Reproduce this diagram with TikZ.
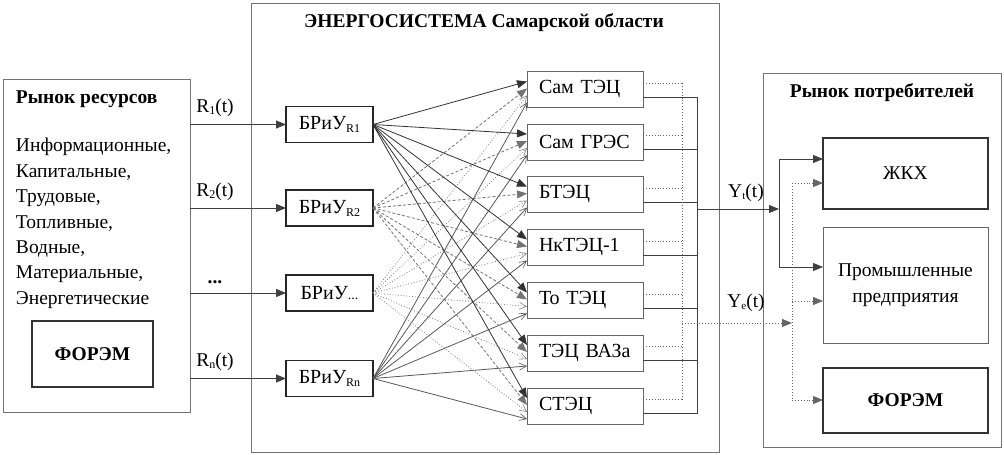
\documentclass[tikz,border=0pt]{standalone}
\usepackage{fontspec}
\setmainfont{Liberation Serif}
\usetikzlibrary{arrows.meta,calc}
\begin{document}
\begin{tikzpicture}[x=1pt,y=-1pt,
  every node/.style={inner sep=0pt,outer sep=0pt},
  txt/.style={font=\fontsize{19.5}{24}\selectfont},
  btxt/.style={font=\fontsize{19.5}{24}\selectfont\bfseries},
  panel/.style={draw=black!55,line width=1pt},
  brbox/.style={draw=black!85,line width=1.3pt,minimum width=87pt,minimum height=36pt,font=\fontsize{20}{24}\selectfont},
  plant/.style={draw=black!60,line width=1pt,text width=92pt,inner xsep=12pt,minimum height=36pt,align=left,font=\fontsize{20}{24}\selectfont},
  cbox/.style={draw=black!80,line width=1.3pt,font=\fontsize{19.5}{24}\selectfont,align=center},
  fill tip/.style={-{Triangle[length=10pt,width=8pt]}},
  open tip/.style={-{Straight Barb[length=7pt,width=7pt,line width=0.6pt]}},
  l1/.style={draw=black!80,line width=0.8pt,fill tip},
  l2/.style={draw=black!55,line width=0.8pt,dash pattern=on 3pt off 2pt,fill tip},
  l3/.style={draw=black!50,line width=0.8pt,dotted,open tip},
  l4/.style={draw=black!65,line width=0.8pt,open tip},
  solidout/.style={draw=black!75,line width=0.9pt},
  dotout/.style={draw=black!60,line width=0.9pt,dotted},
  inarr/.style={draw=black!75,line width=0.9pt,fill tip},
]
\useasboundingbox (0,0) rectangle (1004,455);
\fill[white] (0,0) rectangle (1004,455);

% panels
\node[panel,minimum width=187pt,minimum height=333pt] (lp) at (96.5,245.5) {};
\node[panel,minimum width=468pt,minimum height=449pt] (mp) at (485,227.5) {};
\node[panel,minimum width=238pt,minimum height=374pt] (rp) at (882,260) {};

% left panel texts
\node[btxt,anchor=west] (lt) at (16,99) {Рынок ресурсов};
\foreach \tx/\yy [count=\k] in {{Информационные,}/147,{Капитальные,}/172.5,{Трудовые,}/198,{Топливные,}/223.5,{Водные,}/249,{Материальные,}/274.5,{Энергетические}/300}
  \node[txt,anchor=west] (res\k) at (16,\yy) {\tx};
\node[cbox,minimum width=121pt,minimum height=66pt,font=\fontsize{19.5}{24}\selectfont\bfseries] (f1) at (92.5,354) {ФОРЭМ};

% middle title
\node[btxt] (mt) at (484,23) {ЭНЕРГОСИСТЕМА Самарской области};

% BRiU boxes
\node[brbox] (b1) at (329.5,124.5) {БРиУ\raisebox{-3pt}{\fontsize{12}{12}\selectfont R1}};
\node[brbox] (b2) at (329.5,208) {БРиУ\raisebox{-3pt}{\fontsize{12}{12}\selectfont R2}};
\node[brbox] (b3) at (329.5,293) {БРиУ\raisebox{0pt}{\fontsize{14}{14}\selectfont...}};
\node[brbox] (b4) at (329.5,378.5) {БРиУ\raisebox{-3pt}{\fontsize{12}{12}\selectfont Rn}};

% plants
\foreach \n/\yy [count=\k] in {Сам ТЭЦ/89.5,Сам ГРЭС/142,БТЭЦ/194.5,НкТЭЦ-1/247.5,То ТЭЦ/300.5,ТЭЦ ВАЗа/353,СТЭЦ/406}
  \node[plant] (p\k) at (585,\yy) {\n};

% input arrows
\draw[inarr] (lp.east |- b1.west) -- (b1.west);
\draw[inarr] (lp.east |- b2.west) -- (b2.west);
\draw[inarr] (lp.east |- b3.west) -- (b3.west);
\draw[inarr] (lp.east |- b4.west) -- (b4.west);
\node[txt] (lab1) at (215,108) {R\raisebox{-2pt}{\fontsize{12}{12}\selectfont 1}(t)};
\node[txt] (lab2) at (215,192) {R\raisebox{-2pt}{\fontsize{12}{12}\selectfont 2}(t)};
\node[btxt] (lab3) at (215,282) {...};
\node[txt] (lab4) at (215,362) {R\raisebox{-2pt}{\fontsize{12}{12}\selectfont n}(t)};

% many-to-many connections
\foreach \j in {1,...,7}{
  \draw[l4] (b4.east) -- ([yshift=-31pt]p\j.north west);
  \draw[l3] (b3.east) -- ([yshift=-24pt]p\j.north west);
  \draw[l2] (b2.east) -- ([yshift=-17pt]p\j.north west);
  \draw[l1] (b1.east) -- ([yshift=-10pt]p\j.north west);
}

% plant outputs
\coordinate (dtop) at (682,83);
\coordinate (dbot) at (682,399.5);
\coordinate (stop) at (697,97);
\coordinate (sbot) at (697,413.5);
\foreach \j in {1,...,7}{
  \coordinate (d\j) at ([yshift=6.5pt]p\j.east);
  \coordinate (s\j) at ([yshift=-7.5pt]p\j.east);
  \draw[dotout] (d\j) -- (d\j -| dtop);
  \draw[solidout] (s\j) -- (s\j -| stop);
}
\draw[dotout] (dtop) -- (dbot);
\draw[solidout] (stop) -- (sbot);

% right panel
\node[btxt] (rt) at (882,93) {Рынок потребителей};
\node[cbox,minimum width=165pt,minimum height=71pt] (zkh) at (905.5,173.5) {ЖКХ};
\node[cbox,draw=black!60,line width=1pt,minimum width=165pt,minimum height=116pt,font=\fontsize{19.5}{26}\selectfont] (prom) at (905.5,285) {Промышленные\\предприятия};
\node[cbox,minimum width=165pt,minimum height=65pt,font=\fontsize{19.5}{24}\selectfont\bfseries] (f2) at (905.5,400.5) {ФОРЭМ};

% Y_t
\coordinate (yt0) at (697,209);
\coordinate (ytb) at (779,209);
\coordinate (tb1) at (779,159);
\coordinate (tb2) at (779,267);
\draw[inarr] (yt0) -- (ytb);
\draw[solidout] (tb1) -- (tb2);
\draw[inarr] (tb1) -- (tb1 -| zkh.west);
\draw[inarr] (tb2) -- (tb2 -| prom.west);
\node[txt] (ytl) at (746,193) {Y\raisebox{-2pt}{\fontsize{11}{11}\selectfont t}(t)};

% Y_e
\coordinate (ye0) at (682,323);
\coordinate (yeb) at (792,323);
\coordinate (eb1) at (792,183);
\coordinate (eb2) at (792,301);
\coordinate (eb3) at (792,400);
\draw[dotout,fill tip] (ye0) -- (yeb);
\draw[dotout] (eb1) -- (eb3);
\draw[dotout,fill tip] (eb1) -- (eb1 -| zkh.west);
\draw[dotout,fill tip] (eb2) -- (eb2 -| prom.west);
\draw[dotout,fill tip] (eb3) -- (eb3 -| f2.west);
\node[txt] (yel) at (746,303) {Y\raisebox{-2pt}{\fontsize{11}{11}\selectfont e}(t)};
\end{tikzpicture}
\end{document}
